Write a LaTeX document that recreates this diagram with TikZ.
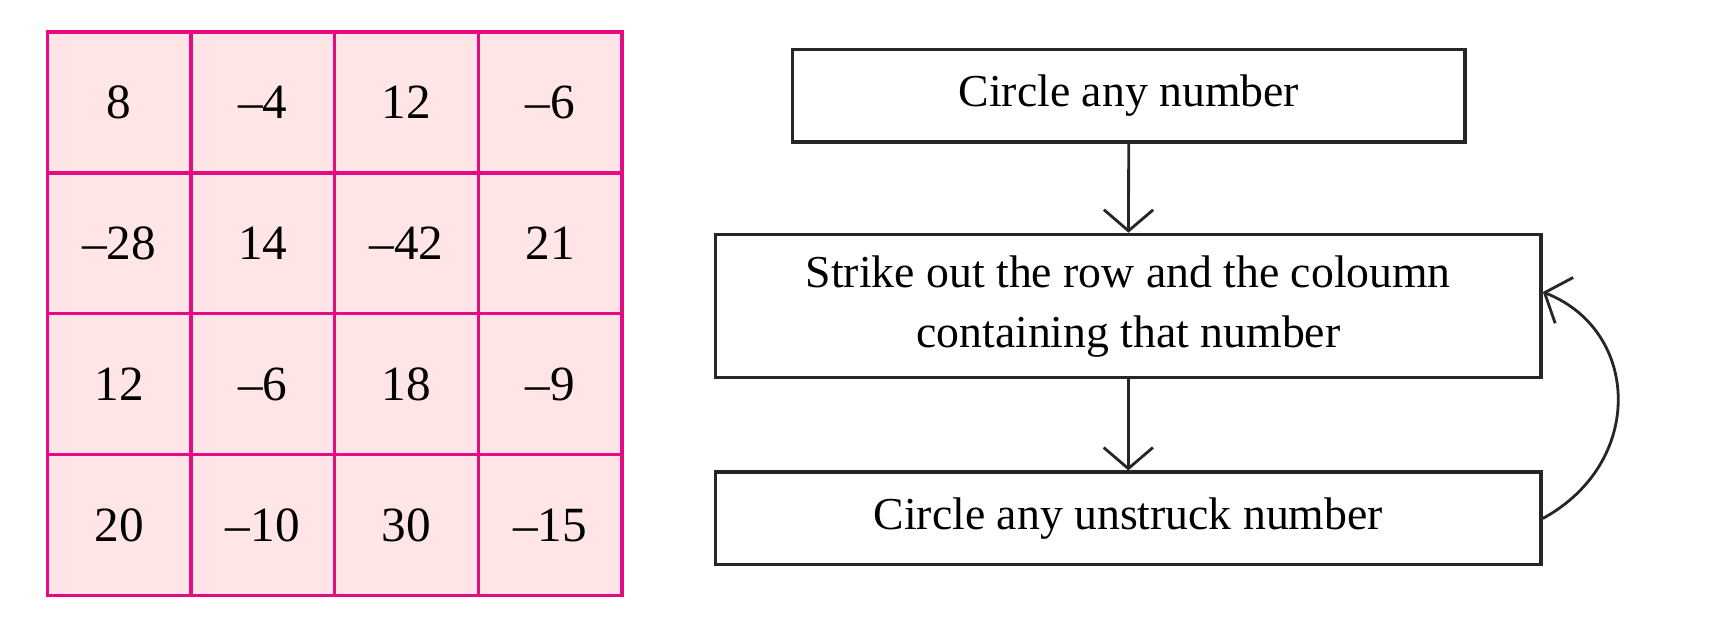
\documentclass[tikz,border=0pt]{standalone}
\usepackage{fontspec}
\setmainfont{Liberation Serif}
\usetikzlibrary{arrows.meta,positioning}
\begin{document}
\begin{tikzpicture}[x=0.011cm,y=-0.011cm,
    cell/.style={rectangle, draw=magenta!85!purple, fill=pink!40, line width=1pt, minimum width=130.5*0.011cm, minimum height=128*0.011cm, font=\fontsize{14}{16}\selectfont, inner sep=0pt, text depth=0pt},
    stepbox/.style={rectangle, draw=black!85, line width=1pt, align=center, font=\fontsize{13}{17}\selectfont, inner sep=0pt},
    arrow/.style={-{Straight Barb[length=6pt,width=14pt]}, line width=0.8pt, black!85}]
    \useasboundingbox (0,0) rectangle (1568,567);

    % Tabella dei numeri
    \foreach \row/\vals in {0/{8,–4,12,–6}, 1/{–28,14,–42,21}, 2/{12,–6,18,–9}, 3/{20,–10,30,–15}} {
        \foreach \v [count=\col from 0] in \vals {
            \node[cell] (c\row\col) at (108.25+130.5*\col, 93+128*\row) {\v};
        }
    }

    % Passi
    \node[stepbox, minimum width=611*0.011cm, minimum height=84*0.011cm] (circ) at (1025.5,87) {\raisebox{-0.12cm}{Circle any number}};
    \node[stepbox, minimum width=750*0.011cm, minimum height=130*0.011cm] (strike) at (1025,278) {\\[-0.6em]Strike out the row and the coloumn\\containing that number};
    \node[stepbox, minimum width=750*0.011cm, minimum height=84*0.011cm] (again) at (1025,471) {\raisebox{-0.12cm}{Circle any unstruck number}};
    \coordinate (back) at ([yshift=0.14cm]strike.east);

    % Frecce
    \draw[arrow] (circ) -- (strike);
    \draw[arrow] (strike) -- (again);
    \draw[arrow] (again.east) .. controls (1495,420) and (1490,300) .. (back);
\end{tikzpicture}
\end{document}
